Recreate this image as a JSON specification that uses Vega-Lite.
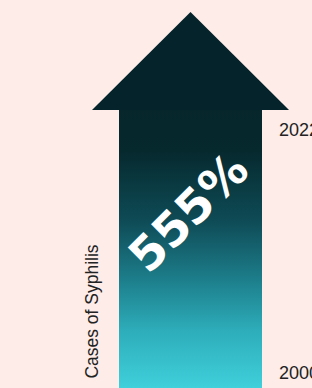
{
  "$schema": "https://vega.github.io/schema/vega-lite/v6.json",
  "width": 312,
  "height": 388,
  "autosize": {"type": "none"},
  "padding": 0,
  "background": "#fdece8",
  "config": {"view": {"stroke": null}},
  "datasets": {
    "head": [
      {"x": 92, "top": 278, "base": 278},
      {"x": 190.5, "top": 376, "base": 278},
      {"x": 289, "top": 278, "base": 278}
    ],
    "shaft": [{"x": 119, "x2": 262, "y": 0, "y2": 279}],
    "labels": [
      {"x": 279, "y": 257.5, "text": "2022"},
      {"x": 279, "y": 14.5, "text": "2000"}
    ],
    "big": [{"x": 190, "y": 174, "text": "555%"}],
    "title": [{"x": 93, "y": 76.5, "text": "Cases of Syphilis"}]
  },
  "layer": [
    {
      "data": {"name": "shaft"},
      "mark": {
        "type": "rect",
        "color": {
          "gradient": "linear", "x1": 0, "y1": 0, "x2": 0, "y2": 1,
          "stops": [
            {"offset": 0, "color": "#06262b"},
            {"offset": 0.15, "color": "#06292e"},
            {"offset": 0.4, "color": "#0e4b56"},
            {"offset": 0.6, "color": "#1c7b88"},
            {"offset": 0.8, "color": "#2eaebb"},
            {"offset": 1, "color": "#3fd0db"}
          ]
        }
      },
      "encoding": {
        "x": {"field": "x", "type": "quantitative", "scale": {"domain": [0, 312], "nice": false, "zero": false}, "axis": null},
        "x2": {"field": "x2"},
        "y": {"field": "y", "type": "quantitative", "scale": {"domain": [0, 388], "nice": false, "zero": false}, "axis": null},
        "y2": {"field": "y2"}
      }
    },
    {
      "data": {"name": "head"},
      "mark": {"type": "area", "color": "#05232a", "interpolate": "linear"},
      "encoding": {
        "x": {"field": "x", "type": "quantitative"},
        "y": {"field": "top", "type": "quantitative"},
        "y2": {"field": "base"}
      }
    },
    {
      "data": {"name": "big"},
      "mark": {"type": "text", "angle": 315, "font": "DejaVu Sans", "fontWeight": "bold", "fontSize": 47, "color": "#ffffff", "align": "center", "baseline": "middle"},
      "encoding": {
        "x": {"field": "x", "type": "quantitative"},
        "y": {"field": "y", "type": "quantitative"},
        "text": {"field": "text"}
      }
    },
    {
      "data": {"name": "title"},
      "mark": {"type": "text", "angle": 270, "font": "Liberation Sans", "fontSize": 17.5, "color": "#222222", "align": "center", "baseline": "middle"},
      "encoding": {
        "x": {"field": "x", "type": "quantitative"},
        "y": {"field": "y", "type": "quantitative"},
        "text": {"field": "text"}
      }
    },
    {
      "data": {"name": "labels"},
      "mark": {"type": "text", "font": "Liberation Sans", "fontSize": 18, "color": "#222222", "align": "left", "baseline": "middle"},
      "encoding": {
        "x": {"field": "x", "type": "quantitative"},
        "y": {"field": "y", "type": "quantitative"},
        "text": {"field": "text"}
      }
    }
  ]
}
